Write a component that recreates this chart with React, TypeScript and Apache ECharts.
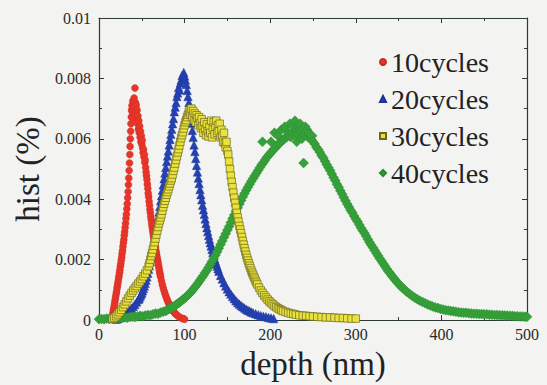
import React, { useEffect, useRef } from "react";
import * as echarts from "echarts";

const seriesNames = ["10cycles", "20cycles", "30cycles", "40cycles"];
const xRange = [0, 500];
const xStep = 100;
const yRange = [0, 0.01];
const yStep = 0.002;

const cycles10: [number, number][] = [
  [14, 0.00003], [15, 0.00006], [15.5, 0.00012], [16, 0.00018], [16.5, 0.00026], [17, 0.00034], [17.5, 0.00042],
  [18, 0.0005], [18.5, 0.0006], [19, 0.00068], [19.5, 0.00077], [20, 0.00086], [20.5, 0.00094], [21, 0.00104],
  [21.5, 0.00112], [22, 0.00121], [22.5, 0.0013], [23, 0.0014], [23.5, 0.00148], [24, 0.00158], [24.5, 0.00167],
  [25, 0.00178], [25.5, 0.00187], [26, 0.00198], [26.5, 0.00208], [27, 0.0022], [27.5, 0.0023], [28, 0.00243],
  [28.5, 0.00255], [29, 0.00266], [29.5, 0.0028], [30, 0.00292], [30.5, 0.00306], [31, 0.0032], [31.5, 0.00336],
  [32, 0.0035], [32.5, 0.00368], [33, 0.00385], [33.5, 0.00405], [34, 0.00425], [34.4, 0.00448], [34.8, 0.0047],
  [35.2, 0.00495], [35.6, 0.0052], [36, 0.00548], [36.3, 0.00575], [36.6, 0.006], [37, 0.00625], [37.3, 0.0065],
  [37.7, 0.00672], [38, 0.00695], [38.5, 0.0071], [39, 0.00688], [39.5, 0.00725], [40, 0.0067], [40.5, 0.00705],
  [41, 0.00735], [41.5, 0.0069], [42, 0.00768], [42.5, 0.0072], [43, 0.00683], [43.5, 0.00712], [44, 0.00665],
  [44.5, 0.00695], [45, 0.0065], [45.5, 0.00676], [46, 0.00632], [46.5, 0.0066], [47, 0.0062], [47.5, 0.00642],
  [48, 0.00605], [48.5, 0.00625], [49, 0.0059], [49.5, 0.0061], [50, 0.00582], [50.5, 0.00595], [51, 0.0057],
  [51.5, 0.00555], [52, 0.00565], [52.5, 0.0054], [53, 0.00548], [53.5, 0.00522], [54, 0.0053], [54.5, 0.00505],
  [55, 0.0049], [55.5, 0.00478], [56, 0.00465], [56.5, 0.0045], [57, 0.00436], [57.5, 0.0042], [58, 0.00408],
  [58.5, 0.00393], [59, 0.0038], [59.5, 0.00366], [60, 0.00355], [60.5, 0.00342], [61, 0.00332], [61.5, 0.0032],
  [62, 0.0031], [62.5, 0.003], [63, 0.0029], [63.5, 0.0028], [64, 0.00272], [64.5, 0.00262], [65, 0.00255],
  [65.5, 0.00246], [66, 0.0024], [66.5, 0.0023], [67, 0.00222], [67.5, 0.00213], [68, 0.00205], [68.5, 0.00197],
  [69, 0.0019], [69.5, 0.00181], [70, 0.00173], [70.5, 0.00165], [71, 0.00157], [71.5, 0.0015], [72, 0.00143],
  [73, 0.0013], [74, 0.00118], [75, 0.00107], [76, 0.00097], [77, 0.00088], [78, 0.0008], [79, 0.00072],
  [80, 0.00065], [81, 0.00058], [82, 0.00052], [83, 0.00047], [84, 0.00042], [85, 0.00037], [86, 0.00033],
  [87, 0.00029], [88, 0.00025], [89, 0.00022], [90, 0.00019], [92, 0.00014], [94, 0.0001], [96, 0.00007],
  [98, 0.00005], [100, 0.00003],
];

const cycles20: [number, number][] = [
  [20, 0.00003], [22, 0.00005], [24, 0.00008], [26, 0.00011], [28, 0.00015], [30, 0.00019], [32, 0.00023],
  [34, 0.00028], [36, 0.00033], [38, 0.00039], [40, 0.00045], [42, 0.00052], [44, 0.0006], [46, 0.00068],
  [47, 0.00072], [48, 0.00078], [49, 0.00084], [50, 0.0009], [51, 0.00097], [52, 0.00105], [53, 0.00113],
  [54, 0.00122], [55, 0.00132], [56, 0.00143], [57, 0.00155], [58, 0.00168], [59, 0.0018], [60, 0.00194],
  [61, 0.00208], [62, 0.00222], [63, 0.00238], [64, 0.00255], [65, 0.0027], [66, 0.00288], [67, 0.00305],
  [68, 0.00322], [69, 0.0034], [70, 0.00358], [71, 0.00376], [72, 0.00395], [73, 0.00412], [74, 0.0043],
  [75, 0.00448], [76, 0.00468], [77, 0.00487], [78, 0.00505], [79, 0.00525], [80, 0.00543], [81, 0.0056],
  [82, 0.0058], [83, 0.00598], [84, 0.00615], [85, 0.00632], [86, 0.0065], [87, 0.00667], [88, 0.0069],
  [89, 0.00705], [90, 0.0072], [91, 0.0074], [92, 0.00752], [93, 0.0077], [94, 0.00762], [95, 0.00785],
  [96, 0.00795], [97, 0.0081], [98, 0.00802], [99, 0.0082], [100, 0.00808], [101, 0.00795], [102, 0.0078],
  [103, 0.0076], [104, 0.0074], [105, 0.0072], [106, 0.007], [107, 0.00675], [108, 0.00652], [109, 0.00628],
  [110, 0.00605], [111, 0.0058], [112, 0.00558], [113, 0.00535], [114, 0.00512], [115, 0.0049], [116, 0.0047],
  [117, 0.00452], [118, 0.00432], [119, 0.00415], [120, 0.00398], [121, 0.0038], [122, 0.00365], [123, 0.0035],
  [124, 0.00335], [125, 0.0032], [126, 0.00306], [127, 0.00293], [128, 0.0028], [129, 0.00268], [130, 0.00256],
  [131, 0.00245], [132, 0.00234], [133, 0.00224], [134, 0.00214], [135, 0.00204], [136, 0.00195], [137, 0.00186],
  [138, 0.00178], [139, 0.0017], [140, 0.00162], [142, 0.00148], [144, 0.00136], [146, 0.00124], [148, 0.00113],
  [150, 0.00103], [152, 0.00094], [154, 0.00086], [156, 0.00078], [158, 0.00071], [160, 0.00064], [162, 0.00058],
  [164, 0.00053], [166, 0.00048], [168, 0.00044], [170, 0.0004], [172, 0.00036], [174, 0.00033], [176, 0.0003],
  [178, 0.00027], [180, 0.00024], [183, 0.00021], [186, 0.00018], [189, 0.00015], [192, 0.00013], [195, 0.00011],
  [198, 0.00009], [201, 0.00007], [204, 0.00005],
];

const cycles30: [number, number][] = [
  [16, 0.00004], [18, 0.00008], [20, 0.00013], [22, 0.00019], [24, 0.00026], [26, 0.00034], [28, 0.00043],
  [30, 0.00052], [32, 0.00062], [34, 0.00072], [36, 0.00081], [38, 0.0009], [40, 0.00098], [42, 0.00106],
  [44, 0.00113], [46, 0.00121], [48, 0.00128], [50, 0.00136], [52, 0.00145], [54, 0.00154], [56, 0.00165],
  [58, 0.00178], [59, 0.00188], [60, 0.002], [61, 0.00212], [62, 0.00222], [63, 0.00234], [64, 0.00246],
  [65, 0.00258], [66, 0.0027], [67, 0.00283], [68, 0.00296], [69, 0.00308], [70, 0.0032], [71, 0.0033],
  [72, 0.0034], [73, 0.0035], [74, 0.00362], [75, 0.00374], [76, 0.00385], [77, 0.00395], [78, 0.00405],
  [79, 0.00415], [80, 0.00424], [81, 0.00433], [82, 0.00443], [83, 0.00452], [84, 0.00462], [85, 0.0047],
  [86, 0.00482], [87, 0.00494], [88, 0.00505], [89, 0.00518], [90, 0.0053], [91, 0.00542], [92, 0.00555],
  [93, 0.00566], [94, 0.00578], [95, 0.0059], [96, 0.00602], [97, 0.00612], [98, 0.00622], [99, 0.00634],
  [100, 0.00645], [101, 0.00655], [102, 0.00662], [103, 0.00672], [104, 0.0068], [105, 0.00688], [106, 0.00694],
  [107, 0.0068], [108, 0.007], [109, 0.00672], [110, 0.00692], [111, 0.00662], [112, 0.00684], [113, 0.00655],
  [114, 0.00678], [115, 0.00668], [116, 0.00645], [117, 0.00672], [118, 0.00652], [119, 0.00635], [120, 0.00665],
  [121, 0.00642], [122, 0.0062], [123, 0.00655], [124, 0.00632], [125, 0.00612], [126, 0.00648], [127, 0.00625],
  [128, 0.00608], [129, 0.0064], [130, 0.0062], [131, 0.0066], [132, 0.00605], [133, 0.00635], [134, 0.00655],
  [135, 0.00615], [136, 0.0064], [137, 0.0066], [138, 0.0062], [139, 0.00645], [140, 0.00625], [141, 0.0065],
  [142, 0.00605], [143, 0.0063], [144, 0.0061], [145, 0.0059], [146, 0.0062], [147, 0.00585], [148, 0.00572],
  [149, 0.0059], [150, 0.0056], [151, 0.00548], [152, 0.00525], [153, 0.005], [154, 0.00478], [155, 0.00458],
  [156, 0.0044], [157, 0.00422], [158, 0.00405], [159, 0.00388], [160, 0.00372], [161, 0.00355], [162, 0.0034],
  [163, 0.00326], [164, 0.00312], [165, 0.003], [166, 0.00288], [167, 0.00275], [168, 0.00262], [169, 0.0025],
  [170, 0.00238], [171, 0.00227], [172, 0.00216], [173, 0.00206], [174, 0.00197], [175, 0.00188], [176, 0.0018],
  [177, 0.00172], [178, 0.00164], [179, 0.00157], [180, 0.0015], [181, 0.00143], [182, 0.00137], [183, 0.0013],
  [184, 0.00124], [185, 0.00118], [187, 0.00108], [189, 0.00098], [191, 0.0009], [193, 0.00082], [195, 0.00075],
  [197, 0.00068], [199, 0.00062], [201, 0.00057], [203, 0.00052], [205, 0.00047], [207, 0.00043], [209, 0.00039],
  [211, 0.00036], [213, 0.00033], [215, 0.0003], [218, 0.00027], [221, 0.00024], [224, 0.00022], [227, 0.0002],
  [230, 0.00018], [234, 0.00016], [238, 0.00015], [242, 0.00014], [246, 0.00013], [250, 0.00012], [255, 0.00011],
  [260, 0.0001], [265, 0.00009], [270, 0.00009], [275, 0.00008], [280, 0.00007], [285, 0.00007], [290, 0.00006],
  [295, 0.00005], [300, 0.00005],
];

const cycles40: [number, number][] = [
  [0, 0.00003], [3, 0.00004], [6, 0.00003], [9, 0.00005], [12, 0.00004], [15, 0.00006], [18, 0.00005],
  [21, 0.00007], [24, 0.00006], [27, 0.00008], [30, 0.00009], [33, 0.00008], [36, 0.0001], [39, 0.00011],
  [42, 0.0001], [45, 0.00012], [48, 0.00014], [51, 0.00013], [54, 0.00015], [57, 0.00017], [60, 0.00016],
  [63, 0.00019], [66, 0.00022], [69, 0.00021], [72, 0.00025], [75, 0.00028], [78, 0.0003], [80, 0.00034],
  [82, 0.00037], [84, 0.00041], [86, 0.00044], [88, 0.00046], [90, 0.00051], [92, 0.00055], [94, 0.00058],
  [96, 0.00063], [98, 0.00068], [100, 0.00072], [102, 0.00078], [104, 0.00083], [106, 0.00088], [108, 0.00095],
  [110, 0.00102], [112, 0.00109], [114, 0.00116], [116, 0.00124], [118, 0.00132], [120, 0.0014], [122, 0.00148],
  [124, 0.00157], [126, 0.00165], [128, 0.00174], [130, 0.00184], [132, 0.00194], [134, 0.00204], [136, 0.00215],
  [138, 0.00226], [140, 0.00238], [142, 0.0025], [144, 0.00262], [146, 0.00274], [148, 0.00286], [150, 0.00298],
  [152, 0.0031], [154, 0.00323], [156, 0.00336], [158, 0.00348], [160, 0.0036], [162, 0.00372], [164, 0.00384],
  [166, 0.00396], [168, 0.00408], [170, 0.00419], [172, 0.0043], [174, 0.0044], [176, 0.0045], [178, 0.0046],
  [180, 0.00469], [182, 0.00478], [184, 0.00487], [186, 0.00496], [188, 0.00505], [190, 0.00514], [191, 0.0059],
  [192, 0.00522], [194, 0.0053], [196, 0.00538], [198, 0.00545], [200, 0.00552], [201, 0.0059], [202, 0.00558],
  [204, 0.00565], [205, 0.0062], [206, 0.0057], [208, 0.00578], [209, 0.0061], [210, 0.00583], [212, 0.00588],
  [213, 0.0063], [214, 0.00594], [216, 0.00598], [217, 0.0064], [218, 0.00604], [220, 0.00608], [221, 0.0062],
  [222, 0.00612], [223, 0.0065], [224, 0.00606], [226, 0.0062], [227, 0.0064], [228, 0.00614], [229, 0.0066],
  [230, 0.00628], [231, 0.0059], [232, 0.00618], [233, 0.0064], [234, 0.0063], [235, 0.0065], [236, 0.00622],
  [237, 0.006], [238, 0.00632], [239, 0.0052], [240, 0.00612], [241, 0.0064], [242, 0.00624], [243, 0.0063],
  [244, 0.00606], [245, 0.0062], [246, 0.00614], [248, 0.00598], [249, 0.0061], [250, 0.0059], [252, 0.00583],
  [254, 0.00572], [256, 0.00565], [258, 0.00556], [260, 0.00545], [262, 0.00537], [264, 0.00526], [266, 0.00515],
  [268, 0.00505], [270, 0.00495], [272, 0.00484], [274, 0.00472], [276, 0.00462], [278, 0.0045], [280, 0.0044],
  [282, 0.00428], [284, 0.00417], [286, 0.00406], [288, 0.00395], [290, 0.00384], [292, 0.00374], [294, 0.00364],
  [296, 0.00355], [298, 0.00345], [300, 0.00335], [302, 0.00326], [304, 0.00316], [306, 0.00306], [308, 0.00297],
  [310, 0.00288], [312, 0.00278], [314, 0.00268], [316, 0.00258], [318, 0.00249], [320, 0.0024], [322, 0.00231],
  [324, 0.00222], [326, 0.00213], [328, 0.00204], [330, 0.00196], [332, 0.00187], [334, 0.00179], [336, 0.0017],
  [338, 0.00162], [340, 0.00155], [342, 0.00147], [344, 0.0014], [346, 0.00133], [348, 0.00126], [350, 0.0012],
  [352, 0.00114], [354, 0.00108], [356, 0.00103], [358, 0.00098], [360, 0.00093], [363, 0.00086], [366, 0.0008],
  [369, 0.00074], [372, 0.00069], [375, 0.00064], [378, 0.0006], [381, 0.00056], [384, 0.00052], [387, 0.00048],
  [390, 0.00045], [393, 0.00042], [396, 0.0004], [399, 0.00037], [402, 0.00035], [405, 0.00033], [408, 0.00032],
  [411, 0.0003], [414, 0.00029], [417, 0.00028], [420, 0.00026], [423, 0.00025], [426, 0.00024], [429, 0.00024],
  [432, 0.00023], [435, 0.00022], [438, 0.00021], [441, 0.00021], [444, 0.0002], [447, 0.0002], [450, 0.00019],
  [453, 0.00019], [456, 0.00018], [459, 0.00018], [462, 0.00017], [465, 0.00017], [468, 0.00016], [471, 0.00016],
  [474, 0.00015], [477, 0.00015], [480, 0.00014], [483, 0.00014], [486, 0.00013], [489, 0.00013], [492, 0.00012],
  [495, 0.00012], [498, 0.00011], [500, 0.00011],
];

const FONT = '"Liberation Serif", "Times New Roman", Times, serif';
const AXIS_COLOR = "#2e3a36";
const LABEL_COLOR = "#2a2a2a";

export default function App() {
  const ref = useRef<HTMLDivElement>(null);

  useEffect(() => {
    if (!ref.current) return;
    const chart = echarts.init(ref.current, null, { renderer: "svg" });

    const axisLine = { show: true, onZero: false, lineStyle: { color: AXIS_COLOR, width: 1.2 } };
    const tick = { show: true, inside: true, length: 5, lineStyle: { color: AXIS_COLOR, width: 1 } };
    const minor = { show: true, splitNumber: 2, length: 3, lineStyle: { color: AXIS_COLOR, width: 1 } };

    const xBase = { type: "value", min: xRange[0], max: xRange[1], interval: xStep, splitLine: { show: false } };
    const yBase = { type: "value", min: yRange[0], max: yRange[1], interval: yStep, splitLine: { show: false } };

    chart.setOption({
      animation: false,
      backgroundColor: "#f3f3f1",
      grid: { left: 99, right: 20, top: 18, bottom: 57, containLabel: false },
      legend: {
        orient: "vertical",
        left: 379,
        top: 48,
        padding: 0,
        itemWidth: 6,
        itemHeight: 6,
        itemGap: 9,
        textStyle: { fontSize: 28, fontFamily: FONT, color: "#222" },
        data: seriesNames,
      },
      xAxis: [
        {
          ...xBase,
          position: "bottom",
          axisLine,
          axisTick: tick,
          minorTick: minor,
          axisLabel: { fontSize: 16, fontFamily: FONT, color: LABEL_COLOR, margin: 6 },
          name: "depth (nm)",
          nameLocation: "middle",
          nameGap: 24,
          nameTextStyle: { fontSize: 33, fontFamily: FONT, color: "#222" },
        },
        {
          ...xBase,
          position: "top",
          axisLine,
          axisTick: tick,
          minorTick: minor,
          axisLabel: { show: false },
        },
      ],
      yAxis: [
        {
          ...yBase,
          position: "left",
          axisLine,
          axisTick: tick,
          minorTick: minor,
          axisLabel: { fontSize: 16, fontFamily: FONT, color: LABEL_COLOR, margin: 8 },
          name: "hist (%)",
          nameLocation: "middle",
          nameGap: 54,
          nameRotate: 90,
          nameTextStyle: { fontSize: 33, fontFamily: FONT, color: "#222" },
        },
        {
          ...yBase,
          position: "right",
          axisLine,
          axisTick: tick,
          minorTick: minor,
          axisLabel: { show: false },
        },
      ],
      series: [
        {
          name: seriesNames[0],
          type: "scatter",
          data: cycles10,
          symbol: "circle",
          symbolSize: 7,
          z: 3,
          itemStyle: { color: "#e8352a", borderColor: "#c92a20", borderWidth: 0.4, opacity: 1 },
        },
        {
          name: seriesNames[1],
          type: "scatter",
          data: cycles20,
          symbol: "triangle",
          symbolSize: 8.5,
          z: 2,
          itemStyle: { color: "#2542b4", borderColor: "#1c3290", borderWidth: 0.4, opacity: 1 },
        },
        {
          name: seriesNames[2],
          type: "scatter",
          data: cycles30,
          symbol: "rect",
          symbolSize: 7.5,
          z: 5,
          itemStyle: { color: "#e9e33c", borderColor: "#6e6722", borderWidth: 0.7, opacity: 1 },
        },
        {
          name: seriesNames[3],
          type: "scatter",
          data: cycles40,
          symbol: "diamond",
          symbolSize: 10,
          z: 4,
          itemStyle: { color: "#36a03a", borderColor: "#2b8a2e", borderWidth: 0.4, opacity: 1 },
        },
      ],
    });

    return () => chart.dispose();
  }, []);

  return (
    <div
      ref={ref}
      style={{ position: "fixed", left: 0, top: 0, width: 547, height: 385 }}
    />
  );
}
